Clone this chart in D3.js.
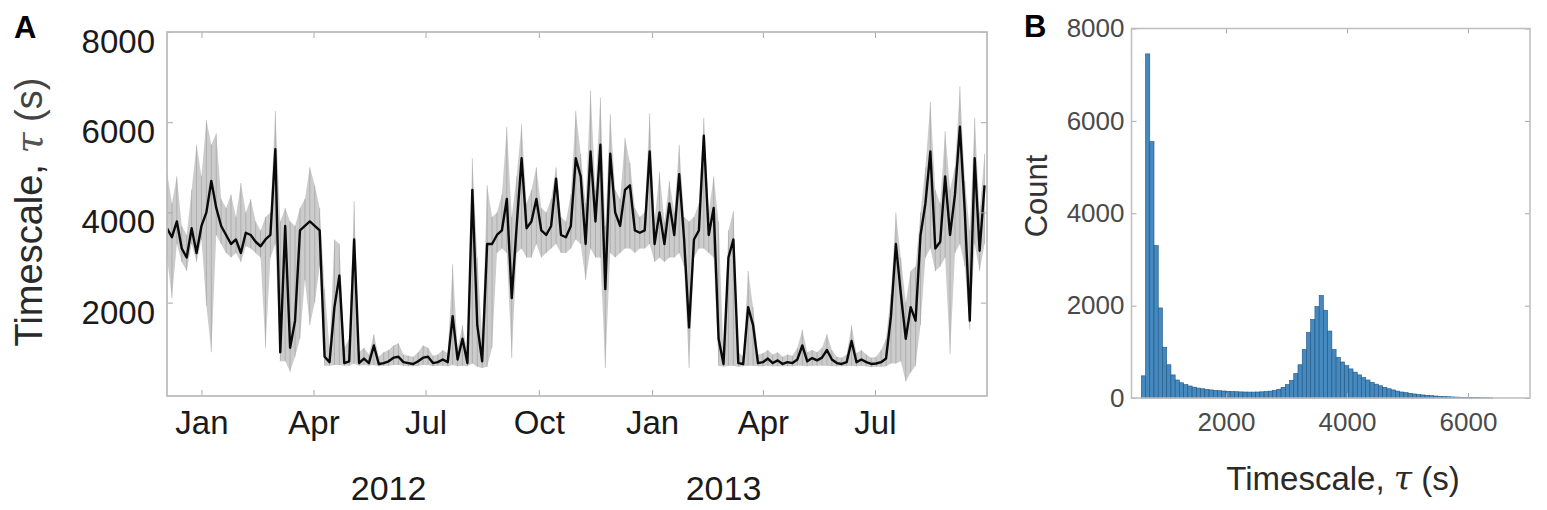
<!DOCTYPE html>
<html><head><meta charset="utf-8">
<script src="https://cdn.jsdelivr.net/npm/d3@7"></script>
<style>
body{margin:0;background:#fff;}
svg{display:block;}
text{font-family:"Liberation Sans", Arial, Helvetica, sans-serif;}
</style>
</head><body>
<svg id="chart" width="1547" height="510"></svg>
<script>
// ---------------- DATA ----------------
// Panel A: timescale series, one reading every 4 days from the start date
const seriesStart = "2011-12-04";
const stepDays = 4;
const tauMid = [3650,3450,3800,3200,3000,3650,3100,3700,4000,4700,4100,3700,3500,3300,3400,3100,3550,3500,3350,3250,
  3400,3500,5400,900,3700,1000,1600,3600,3700,3800,3700,3600,800,680,1900,2600,660,700,3400,660,
  760,660,1050,640,660,700,780,800,680,660,640,700,780,800,660,680,740,680,1700,740,
  1200,660,4500,1500,700,3300,3300,3500,3600,4300,2100,3700,5200,3650,3800,4300,3600,3500,3700,4750,
  3500,3450,3700,5200,4800,3300,5350,3800,5500,2300,5300,4000,3700,4500,4600,3600,3550,3600,5350,3300,
  4000,3300,4200,3500,4850,3400,1450,3400,3600,5700,3500,4100,1200,640,3000,3400,660,640,1900,1500,
  660,680,760,660,720,640,680,660,740,1050,700,770,720,780,950,740,660,640,680,1150,
  680,740,680,640,650,680,760,1700,3300,2200,1200,1900,1600,3500,4200,5350,3200,3350,4800,3500,
  4400,5900,4000,1600,5200,3150,4600];
const tauHi = [4900,4200,4800,3700,3500,4500,5500,4800,6050,5500,5750,4300,4100,4400,3900,4650,4000,4300,3800,3600,
  3900,4000,6250,3800,4100,3800,3700,4100,4300,5000,4600,4100,2300,1000,3400,3300,1000,1200,4250,900,
  1000,850,1300,800,900,950,1050,1100,850,820,800,900,1050,1000,820,850,950,880,2850,1000,
  1500,900,5200,3000,1200,4600,3900,4000,4400,5900,3900,4800,5950,4200,4500,5000,4100,4000,4300,5000,
  3900,3800,4400,6250,5300,4200,6700,4500,6550,3700,6180,4500,4300,5650,5100,4100,3900,4000,6200,3800,
  4900,3800,4700,4000,5500,3900,3800,3900,4200,6100,4000,4800,3800,800,3600,4030,900,800,2700,1900,
  850,880,950,850,900,800,850,820,1000,1400,900,950,900,1000,1300,950,800,780,850,1500,
  880,950,850,780,800,950,1200,2200,4000,3000,2000,2700,2800,4000,5000,6450,4500,4200,5800,4500,
  5000,6800,4700,3600,6100,4000,5300];
const tauLo = [3000,2100,3300,2900,2700,3300,2900,3400,1930,900,3500,3300,3100,3000,3100,2900,3250,3200,3100,3000,
  1000,3000,3300,700,700,470,800,1200,2500,1500,2000,2800,600,600,620,620,600,600,650,600,
  620,600,620,590,600,600,620,620,600,590,590,600,620,620,590,600,600,590,620,590,
  600,590,650,580,550,580,1000,3100,3200,3100,770,3100,3200,3000,3000,3300,3000,3100,3200,3300,
  3100,3100,3200,3400,3300,2500,3200,3000,3000,550,3100,3000,3100,3200,3200,3100,3200,3200,3300,2900,
  3000,2900,3000,3000,3100,2800,550,3000,3200,3200,3100,3000,600,580,600,600,580,590,600,600,
  590,590,600,590,590,590,590,590,600,600,590,600,600,600,600,590,590,590,590,600,
  590,600,590,570,580,580,590,650,650,700,250,450,600,1500,3000,3200,2700,2800,3000,860,
  3100,3300,2800,1400,3300,2700,3300];
const quarterTicks = ["2012-01-01","2012-04-01","2012-07-01","2012-10-01","2013-01-01","2013-04-01","2013-07-01"];
const yearLabels = ["2012","2013"];
const yearLabelDates = ["2012-06-01","2013-02-28"];
const tauTicksA = [2000,4000,6000,8000];

// Panel B: histogram of timescales
const histBinStart = 600;
const histBinWidth = 70;
const histCounts = [480,7450,5550,3300,1950,1100,720,500,390,330,290,260,235,215,200,185,175,165,158,152,
  146,140,136,132,130,128,128,130,134,140,150,165,190,230,290,380,530,720,1050,1420,
  1700,1980,2220,1900,1450,1050,880,780,700,630,560,500,440,390,340,300,265,230,200,175,
  150,130,115,100,88,76,66,58,50,43,37,32,27,23,19,16,13,11,9,7,5,4,3];
const histTicksX = [2000,4000,6000];
const histTicksY = [0,2000,4000,6000,8000];

// ---------------- DRAW ----------------
const svg = d3.select("#chart");
const parse = d3.utcParse("%Y-%m-%d");
const t0 = parse(seriesStart);
const series = tauMid.map((v, i) => ({date: d3.utcDay.offset(t0, i * stepDays), mid: v, hi: tauHi[i], lo: tauLo[i]}));
const fmt = d3.format("d");

const boxColor = "#bdbdbd";
const tickColor = "#a8a8a8";

// ===== Panel A =====
const A = {left: 167, right: 987, top: 32, bottom: 396};
const xA = d3.scaleUtc().domain([parse("2011-12-04"), parse("2013-09-30")]).range([A.left, A.right]);
const yA = d3.scaleLinear().domain([-70, 8000]).range([A.bottom, A.top]);

svg.append("defs").append("clipPath").attr("id", "clipA")
  .append("rect").attr("x", A.left).attr("y", A.top).attr("width", A.right - A.left).attr("height", A.bottom - A.top);

const gData = svg.append("g").attr("clip-path", "url(#clipA)");
gData.append("path").datum(series)
  .attr("d", d3.area().x(d => xA(d.date)).y0(d => yA(d.lo)).y1(d => yA(d.hi)))
  .attr("fill", "#9a9a9a").attr("fill-opacity", 0.5);
gData.selectAll("line.sp").data(series).join("line").attr("class", "sp")
  .attr("x1", d => xA(d.date)).attr("x2", d => xA(d.date))
  .attr("y1", d => yA(d.lo)).attr("y2", d => yA(d.hi))
  .attr("stroke", "#777").attr("stroke-width", 1).attr("stroke-opacity", 0.35);
gData.append("path").datum(series)
  .attr("d", d3.line().x(d => xA(d.date)).y(d => yA(d.mid)))
  .attr("fill", "none").attr("stroke", "#0a0a0a").attr("stroke-width", 2.4).attr("stroke-linejoin", "round");

function styleAxis(g, fs, color) {
  g.select(".domain").remove();
  g.selectAll(".tick line").attr("stroke", tickColor);
  g.selectAll(".tick text").attr("font-size", fs).attr("fill", color)
    .attr("font-family", '"Liberation Sans", Arial, Helvetica, sans-serif');
}
const qDates = quarterTicks.map(parse);
svg.append("g").attr("transform", `translate(0,${A.bottom})`)
  .call(d3.axisBottom(xA).tickValues(qDates).tickFormat(d3.utcFormat("%b")).tickSize(-6).tickPadding(15))
  .call(g => styleAxis(g, 33, "#1a1a1a"));
svg.append("g").attr("transform", `translate(0,${A.top})`)
  .call(d3.axisTop(xA).tickValues(qDates).tickFormat("").tickSize(-6))
  .call(g => styleAxis(g, 33, "#1a1a1a"));
svg.append("g").attr("transform", `translate(${A.left},0)`)
  .call(d3.axisLeft(yA).tickValues(tauTicksA).tickFormat(fmt).tickSize(-6).tickPadding(12))
  .call(g => styleAxis(g, 33, "#1a1a1a"))
  .call(g => g.selectAll(".tick text").attr("y", 10));
svg.append("g").attr("transform", `translate(${A.right},0)`)
  .call(d3.axisRight(yA).tickValues(tauTicksA).tickFormat("").tickSize(-6))
  .call(g => styleAxis(g, 33, "#1a1a1a"));
svg.append("rect").attr("x", A.left).attr("y", A.top).attr("width", A.right - A.left).attr("height", A.bottom - A.top)
  .attr("fill", "none").attr("stroke", boxColor).attr("stroke-width", 1.8);

svg.selectAll("text.year").data(yearLabels).join("text").attr("class", "year")
  .attr("x", (d, i) => xA(parse(yearLabelDates[i]))).attr("y", 500)
  .attr("text-anchor", "middle").attr("font-size", 34).attr("fill", "#1a1a1a").text(d => d);

const titleA = svg.append("text").attr("transform", "translate(42,212) rotate(-90)")
  .attr("text-anchor", "middle").attr("font-size", 38).attr("fill", "#2a2a2a");
titleA.append("tspan").text("Timescale, ");
titleA.append("tspan").attr("font-family", '"DejaVu Serif", "Liberation Serif", serif').attr("font-style", "italic").attr("fill", "#555").text("τ");
titleA.append("tspan").attr("fill", "#444").text(" (s)");

svg.append("text").attr("x", 14).attr("y", 38).attr("font-size", 31).attr("font-weight", "bold").attr("fill", "#000").text("A");

// ===== Panel B =====
const B = {left: 1131.5, right: 1530, top: 28.5, bottom: 398};
const xB = d3.scaleLinear().domain([438, 7025]).range([B.left, B.right]);
const yB = d3.scaleLinear().domain([0, 8000]).range([B.bottom, B.top]);

const bins = histCounts.map((c, i) => ({x0: histBinStart + i * histBinWidth, x1: histBinStart + (i + 1) * histBinWidth, c}));
svg.append("g").selectAll("rect").data(bins).join("rect")
  .attr("x", d => xB(d.x0)).attr("width", d => xB(d.x1) - xB(d.x0))
  .attr("y", d => yB(d.c)).attr("height", d => yB(0) - yB(d.c))
  .attr("fill", "#4589bf").attr("stroke", "#1f5582").attr("stroke-width", 0.6);

svg.append("g").attr("transform", `translate(0,${B.bottom})`)
  .call(d3.axisBottom(xB).tickValues(histTicksX).tickFormat(fmt).tickSize(-5).tickPadding(15))
  .call(g => styleAxis(g, 26, "#4a4a4a"));
svg.append("g").attr("transform", `translate(0,${B.top})`)
  .call(d3.axisTop(xB).tickValues(histTicksX).tickFormat("").tickSize(-5))
  .call(g => styleAxis(g, 26, "#4a4a4a"));
svg.append("g").attr("transform", `translate(${B.left},0)`)
  .call(d3.axisLeft(yB).tickValues(histTicksY).tickFormat(fmt).tickSize(-5).tickPadding(7))
  .call(g => styleAxis(g, 26, "#4a4a4a"));
svg.append("g").attr("transform", `translate(${B.right},0)`)
  .call(d3.axisRight(yB).tickValues(histTicksY).tickFormat("").tickSize(-5))
  .call(g => styleAxis(g, 26, "#4a4a4a"));
svg.append("rect").attr("x", B.left).attr("y", B.top).attr("width", B.right - B.left).attr("height", B.bottom - B.top)
  .attr("fill", "none").attr("stroke", boxColor).attr("stroke-width", 1.5);

const titleB = svg.append("text").attr("x", 1343).attr("y", 490)
  .attr("text-anchor", "middle").attr("font-size", 33).attr("fill", "#2a2a2a");
titleB.append("tspan").text("Timescale, ");
titleB.append("tspan").attr("font-family", '"DejaVu Serif", "Liberation Serif", serif').attr("font-style", "italic").text("τ");
titleB.append("tspan").text(" (s)");

svg.append("text").attr("transform", "translate(1047,196) rotate(-90)")
  .attr("text-anchor", "middle").attr("font-size", 31).attr("fill", "#333").text("Count");

svg.append("text").attr("x", 1024).attr("y", 37).attr("font-size", 31).attr("font-weight", "bold").attr("fill", "#000").text("B");
</script>
</body></html>
